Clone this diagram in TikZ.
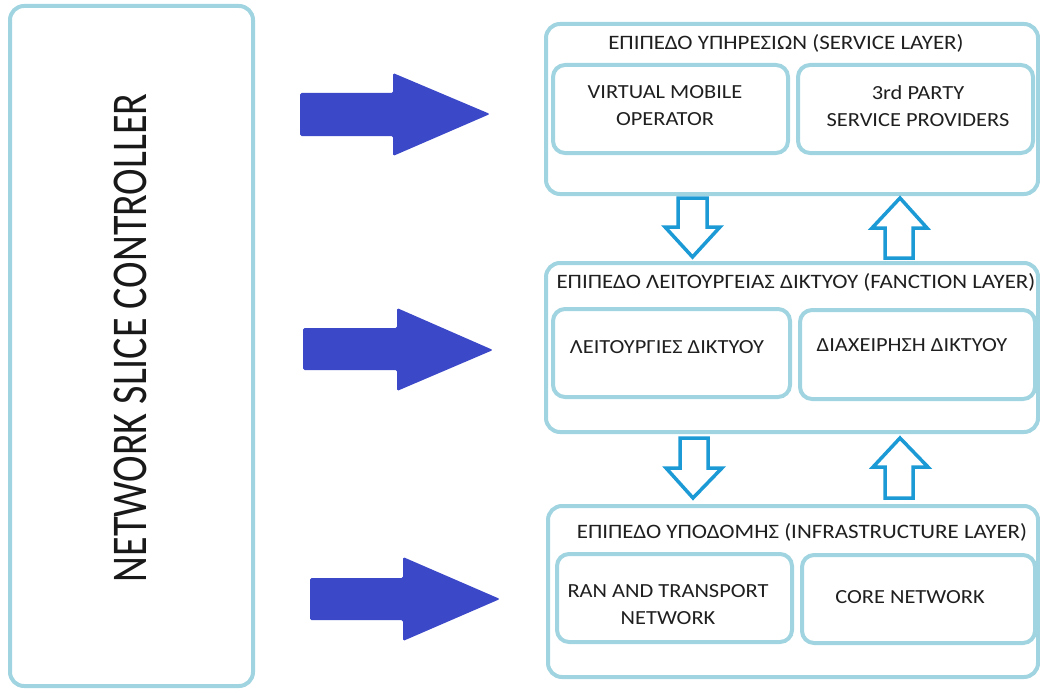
\documentclass[tikz,border=0pt]{standalone}
\usepackage{fontspec}
\setmainfont{Carlito}
\definecolor{boxblue}{RGB}{160,212,224}
\definecolor{hollowblue}{RGB}{28,154,214}
\definecolor{arrowblue}{RGB}{59,72,200}
\newcommand{\wx}[1]{\scalebox{1.12}[1]{#1}}
\begin{document}
\begin{tikzpicture}[x=1pt,y=-1pt,
  box/.style={draw=boxblue, line width=4pt, rounded corners=14pt, inner sep=0pt, outer sep=0pt},
  inbox/.style={draw=boxblue, line width=4pt, rounded corners=12pt, inner sep=0pt, outer sep=0pt},
  lbl/.style={font=\fontsize{20}{27}\selectfont, text=black!88, align=center, inner sep=0pt},
  ttl/.style={font=\fontsize{20.5}{27}\selectfont, text=black!88, align=center, inner sep=0pt},
  bigarrow/.style={fill=arrowblue, rounded corners=1.5pt},
  hollow/.style={draw=hollowblue, line width=3.5pt, fill=white, line join=miter}]
\useasboundingbox (0,0) rectangle (1040,690);

% left controller box
\node[box, minimum width=243pt, minimum height=680pt] (ctrl) at (131.5,346) {};
\node[rotate=90, inner sep=0pt, font=\fontsize{50}{50}\selectfont, text=black!90] (ctrltxt) at (130,338)
  {\scalebox{0.80}[1]{NETWORK SLICE CONTROLLER}};

% service layer
\node[box, minimum width=492pt, minimum height=170pt] (svc) at (792,109) {};
\node[ttl] (svct) at (786,43) {\wx{ΕΠΙΠΕΔΟ ΥΠΗΡΕΣΙΩΝ (SERVICE LAYER)}};
\node[inbox, minimum width=235pt, minimum height=88pt] (s1) at (670.5,109) {};
\node[inbox, minimum width=235pt, minimum height=88pt] (s2) at (915.5,109) {};
\node[lbl] (s1t) at (665,106) {\wx{VIRTUAL MOBILE}\\\wx{OPERATOR}};
\node[lbl] (s2t) at (918,106) {\wx{3rd PARTY}\\\wx{SERVICE PROVIDERS}};

% function layer
\node[box, minimum width=492pt, minimum height=169pt] (fun) at (792,347.5) {};
\node[ttl] (funt) at (796,282) {\wx{ΕΠΙΠΕΔΟ ΛΕΙΤΟΥΡΓΕΙΑΣ ΔΙΚΤΥΟΥ (FANCTION LAYER)}};
\node[inbox, minimum width=237pt, minimum height=88pt] (f1) at (671.5,353) {};
\node[inbox, minimum width=235pt, minimum height=89pt] (f2) at (917.5,354.5) {};
\node[lbl] (f1t) at (667,347) {\wx{ΛΕΙΤΟΥΡΓΙΕΣ ΔΙΚΤΥΟΥ}};
\node[lbl] (f2t) at (912,345) {\wx{ΔΙΑΧΕΙΡΗΣΗ ΔΙΚΤΥΟΥ}};

% infrastructure layer
\node[box, minimum width=490pt, minimum height=171pt] (inf) at (793,591.5) {};
\node[ttl] (inft) at (802,532) {\wx{ΕΠΙΠΕΔΟ ΥΠΟΔΟΜΗΣ (INFRASTRUCTURE LAYER)}};
\node[inbox, minimum width=235pt, minimum height=88pt] (i1) at (674.5,598) {};
\node[inbox, minimum width=233pt, minimum height=88pt] (i2) at (918.5,599) {};
\node[lbl] (i1t) at (668,604.5) {\wx{RAN AND TRANSPORT}\\\wx{NETWORK}};
\node[lbl] (i2t) at (910,597) {\wx{CORE NETWORK}};

% big blue arrows
\fill[bigarrow] (300,93) -- (393,93) -- (393,73) -- (490,114) -- (393,156) -- (393,136) -- (300,136) -- cycle;
\fill[bigarrow] (303,328) -- (397,328) -- (397,308) -- (493,350) -- (397,391) -- (397,370) -- (303,370) -- cycle;
\fill[bigarrow] (310,578) -- (403,578) -- (403,557) -- (500,599) -- (403,641) -- (403,620) -- (310,620) -- cycle;

% hollow arrows between layers
\draw[hollow] (678,198) -- (707,198) -- (707,227) -- (720,227) -- (692.5,257) -- (665,227) -- (678,227) -- cycle;
\draw[hollow] (885,258) -- (913,258) -- (913,228) -- (927,228) -- (900,198) -- (872,228) -- (885,228) -- cycle;
\draw[hollow] (680,438) -- (708,438) -- (708,468) -- (722,468) -- (693,498) -- (666,468) -- (680,468) -- cycle;
\draw[hollow] (885,498) -- (913,498) -- (913,467) -- (928,467) -- (900,438) -- (873,467) -- (885,467) -- cycle;
\end{tikzpicture}
\end{document}
